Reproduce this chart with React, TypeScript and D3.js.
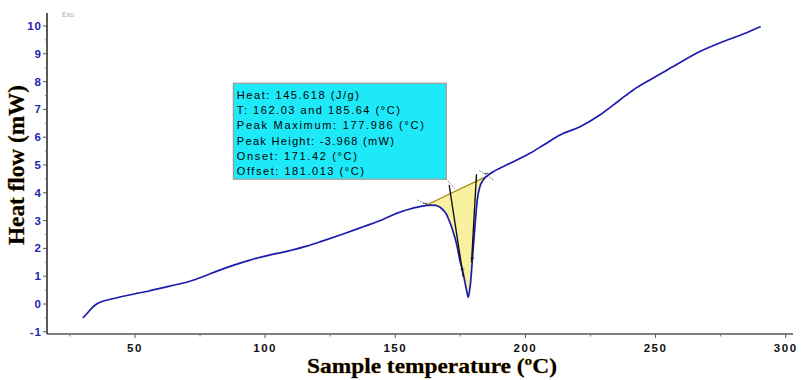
import React from "react";
import * as d3 from "d3";

// ---- data ----
const temps = [
  30.0, 31.5, 33.4, 35.0, 36.6, 41.0, 45.0, 50.6, 55.0, 60.9, 66.0, 71.1, 76.0, 82.0, 88.0,
  94.2, 100, 109.5, 116, 122.2, 130, 137.7, 145, 150.5, 155, 159.5, 163.3, 165.5, 167.2,
  168.6, 169.7, 170.7, 171.6, 172.6, 173.5, 174.8, 176.1, 177.1, 177.6, 178.0, 178.5,
  178.9, 179.7, 180.6, 181.5, 182.5, 183.5, 184.5, 186, 187.6, 190.5, 194.1, 201.7, 207,
  213.3, 221, 228.6, 236.3, 241.4, 247.8, 256.8, 267, 276, 283.7, 290.4,
];
const heatFlow = [
  -0.5, -0.35, -0.15, -0.02, 0.06, 0.18, 0.27, 0.38, 0.46, 0.59, 0.7, 0.82, 0.98, 1.2, 1.4,
  1.58, 1.72, 1.92, 2.08, 2.27, 2.52, 2.78, 3.03, 3.26, 3.4, 3.5, 3.56, 3.55, 3.48,
  3.36, 3.22, 3.0, 2.78, 2.48, 2.18, 1.58, 1.1, 0.62, 0.4, 0.24, 0.45,
  0.74, 1.7, 2.78, 3.74, 4.22, 4.42, 4.54, 4.66, 4.76, 4.9, 5.06, 5.42, 5.72,
  6.08, 6.38, 6.8, 7.34, 7.7, 8.06, 8.54, 9.08, 9.44, 9.71, 9.98,
];
const xTicks = [50, 100, 150, 200, 250, 300];
const xMinorTicks = [25, 75, 125, 175, 225, 275];
const yTicks = [-1, 0, 1, 2, 3, 4, 5, 6, 7, 8, 9, 10];
const yMinorTicks = [-0.5, 0.5, 1.5, 2.5, 3.5, 4.5, 5.5, 6.5, 7.5, 8.5, 9.5];

// integration limits and baseline
const limitT = [162.03, 185.64];
const limitHF = [3.56, 4.62];
// tangent lines (onset / offset)
const onsetLine: [number, number][] = [[170.7, 4.28], [176.1, 0.98]];
const offsetLine: [number, number][] = [[181.2, 4.67], [179.3, 1.5]];
const leftCross: [number, number][] = [[158.5, 3.74], [163.5, 3.5]];
const rightCross: [number, number][] = [[182.3, 4.8], [188.0, 4.45]];
const leader: [number, number][] = [[169.5, 4.5], [172.8, 4.15]];
const markers: [number, number][] = [[175.8, 1.25], [179.6, 1.65], [161.5, 3.62], [185.0, 4.7]];

// info box (data-unit corners) and lines
const boxCorners = { t0: 87.8, t1: 169.6, h0: 7.94, h1: 4.49 };
const boxLines = [
  "Heat:  145.618 (J/g)",
  "T: 162.03 and 185.64 (°C)",
  "Peak Maximum:  177.986 (°C)",
  "Peak Height:  -3.968 (mW)",
  "Onset:  171.42 (°C)",
  "Offset:  181.013 (°C)",
];
const boxLineWidths = [122, 163, 187, 157, 120, 127];

const W = 808;
const H = 380;

export default function App() {
  const x = d3.scaleLinear().domain([16.2, 302.8]).range([47, 793]);
  const y = d3.scaleLinear().domain([-1, 10]).range([331.8, 26]);

  const pts: [number, number][] = temps.map((t, i) => [t, heatFlow[i]]);
  const line = d3
    .line<[number, number]>()
    .x((d) => x(d[0]))
    .y((d) => y(d[1]))
    .curve(d3.curveMonotoneX);

  const interp = (t: number) => {
    const i = d3.bisector((d: number) => d).left(temps, t);
    const t0 = temps[i - 1], t1 = temps[i];
    const f = (t - t0) / (t1 - t0);
    return heatFlow[i - 1] + f * (heatFlow[i] - heatFlow[i - 1]);
  };
  const base = (t: number) =>
    limitHF[0] + ((t - limitT[0]) / (limitT[1] - limitT[0])) * (limitHF[1] - limitHF[0]);
  const inner: [number, number][] = [
    [limitT[0], interp(limitT[0])],
    ...pts.filter((p) => p[0] > limitT[0] && p[0] < limitT[1]),
    [limitT[1], interp(limitT[1])],
  ];
  const area = d3
    .area<[number, number]>()
    .x((d) => x(d[0]))
    .y0((d) => y(base(d[0])))
    .y1((d) => y(d[1]))
    .curve(d3.curveMonotoneX);

  const seg = d3
    .line<[number, number]>()
    .x((d) => x(d[0]))
    .y((d) => y(d[1]));

  const bx = x(boxCorners.t0), by = y(boxCorners.h0);
  const bw = x(boxCorners.t1) - bx, bh = y(boxCorners.h1) - by;

  const tickFont = "Arial, 'Liberation Sans', sans-serif";
  const titleFont = "'Times New Roman', 'Liberation Serif', serif";

  return (
    <svg
      width={W}
      height={H}
      style={{ position: "absolute", left: 0, top: 0, background: "#fff" }}
    >
      <rect x={0} y={0} width={W} height={H} fill="#fff" />
      <text x={62} y={17} fontSize={7} fill="#aaa" fontFamily={tickFont}>
        Exo
      </text>

      {/* y axis */}
      <line x1={47} x2={47} y1={13} y2={334} stroke="#222" strokeWidth={1.5} />
      {yTicks.map((t) => (
        <g key={"yt" + t}>
          <line x1={43} x2={47} y1={y(t)} y2={y(t)} stroke="#555" strokeWidth={1} />
          <text
            x={42}
            y={y(t) + 4}
            textAnchor="end"
            fontSize={11.5}
            fontWeight="bold"
            letterSpacing={1}
            fill="#2323b4"
            fontFamily={tickFont}
          >
            {t}
          </text>
        </g>
      ))}
      {yMinorTicks.map((t) => (
        <line key={"ym" + t} x1={45} x2={47} y1={y(t)} y2={y(t)} stroke="#777" strokeWidth={1} />
      ))}

      {/* x axis */}
      <line x1={47} x2={793} y1={334} y2={334} stroke="#555" strokeWidth={1.5} />
      {xTicks.map((t) => (
        <g key={"xt" + t}>
          <line x1={x(t)} x2={x(t)} y1={334} y2={338} stroke="#555" strokeWidth={1} />
          <text
            x={x(t)}
            y={352}
            textAnchor="middle"
            fontSize={11.5}
            fontWeight="bold"
            letterSpacing={1.5}
            fill="#111"
            fontFamily={tickFont}
          >
            {t}
          </text>
        </g>
      ))}
      {xMinorTicks.map((t) => (
        <line key={"xm" + t} x1={x(t)} x2={x(t)} y1={334} y2={336.5} stroke="#777" strokeWidth={1} />
      ))}

      {/* titles */}
      <text
        x={432}
        y={373}
        textAnchor="middle"
        fontSize={22}
        fontWeight="bold"
        fontFamily={titleFont}
        fill="#000"
        stroke="#d08a10"
        strokeWidth={0.5}
        paintOrder="stroke"
        textLength={250}
        lengthAdjust="spacingAndGlyphs"
      >
        Sample temperature (ºC)
      </text>
      <text
        transform="translate(24,165) rotate(-90)"
        textAnchor="middle"
        fontSize={24}
        fontWeight="bold"
        fontFamily={titleFont}
        fill="#000"
        stroke="#d08a10"
        strokeWidth={0.5}
        paintOrder="stroke"
        textLength={160}
        lengthAdjust="spacingAndGlyphs"
      >
        Heat flow (mW)
      </text>

      {/* integration area */}
      <path d={area(inner) || ""} fill="#f8f2a0" stroke="none" />
      <path
        d={seg([[limitT[0], limitHF[0]], [limitT[1], limitHF[1]]]) || ""}
        stroke="#a8861c"
        strokeWidth={1.3}
        fill="none"
      />

      {/* curve */}
      <path d={line(pts) || ""} fill="none" stroke="#1c1cae" strokeWidth={1.7} />

      {/* tangent lines */}
      <path d={seg(onsetLine) || ""} stroke="#111" strokeWidth={1.4} fill="none" />
      <path d={seg(offsetLine) || ""} stroke="#111" strokeWidth={1.4} fill="none" />
      <path d={seg(leftCross) || ""} stroke="#333" strokeWidth={0.8} strokeDasharray="1.5,1.5" fill="none" />
      <path d={seg(rightCross) || ""} stroke="#333" strokeWidth={0.8} strokeDasharray="1.5,1.5" fill="none" />
      <path d={seg(leader) || ""} stroke="#c04040" strokeWidth={1} strokeDasharray="1.5,1.5" fill="none" />
      {markers.map((m, i) => (
        <g key={"mk" + i}>
          <line x1={x(m[0]) - 2} x2={x(m[0]) + 2} y1={y(m[1])} y2={y(m[1])} stroke="#222" strokeWidth={0.8} />
        </g>
      ))}

      {/* info box */}
      <rect x={bx} y={by} width={bw} height={bh} fill="#1ee9f8" stroke="#9a9a9a" strokeWidth={1.2} />
      {boxLines.map((s, i) => (
        <text
          key={"bl" + i}
          x={bx + 3.5}
          y={by + 15.7 + i * 15.2}
          fontSize={11}
          fill="#000"
          fontFamily={tickFont}
          textLength={boxLineWidths[i]}
          lengthAdjust="spacing"
        >
          {s}
        </text>
      ))}
    </svg>
  );
}
